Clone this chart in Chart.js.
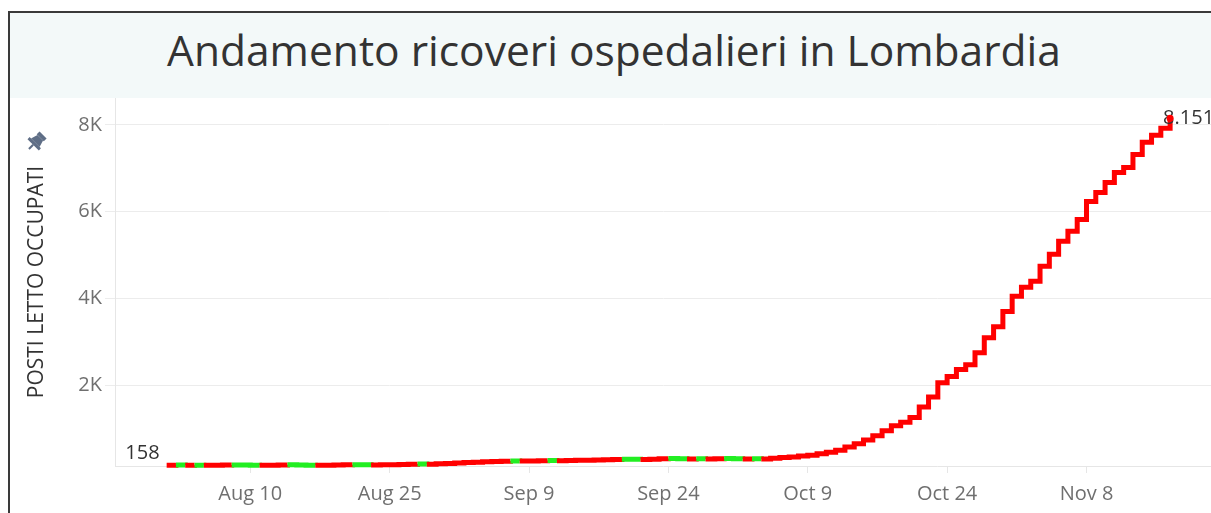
<!DOCTYPE html>
<html>
<head>
<meta charset="utf-8">
<script src="https://cdn.jsdelivr.net/npm/chart.js@4/dist/chart.umd.min.js"></script>
<style>
  html, body { margin: 0; padding: 0; background: #fff; width: 1211px; height: 513px; overflow: hidden; }
  #frame { position: absolute; left: 8px; top: 11px; width: 1220px; height: 520px; border-left: 2px solid #3a3a3a; border-top: 2px solid #3a3a3a; box-sizing: border-box; }
  #band { position: absolute; left: 10px; top: 13px; width: 1210px; height: 85px; background: #f3f9f9; }
  #title { position: absolute; left: 0; top: 10px; width: 1228px; height: 85px; line-height: 80px; text-align: center; font-family: "Open Sans", sans-serif; font-size: 42.5px; color: #333; white-space: nowrap; }
  #c { position: absolute; left: 0; top: 0; }
</style>
</head>
<body>
<div id="frame"></div>
<div id="band"></div>
<div id="title">Andamento ricoveri ospedalieri in Lombardia</div>
<canvas id="c" width="1211" height="513"></canvas>
<script>
// ---- data ----
const startDate = "2020-08-01";
// daily occupied hospital beds, Aug 1 .. Nov 17 2020 (day index = position)
const occupiedBeds = [
  158, 162, 157, 160, 156, 158, 161, 164, 162, 160,
  157, 160, 163, 166, 163, 160, 157, 160, 163, 166,
  169, 166, 164, 167, 170, 174, 178, 184, 180, 190,
  200, 210, 220, 228, 237, 245, 252, 258, 254, 258,
  262, 266, 262, 266, 270, 274, 279, 284, 290, 298,
  294, 290, 298, 305, 312, 308, 303, 307, 303, 307,
  311, 306, 300, 306, 302, 318, 334, 350, 368, 390,
  420, 455, 505, 580, 650, 740, 837, 950, 1067, 1150,
  1260, 1500, 1730, 2060, 2200, 2361, 2476, 2752, 3096, 3349,
  3700, 4053, 4260, 4398, 4743, 5018, 5317, 5547, 5822, 6237,
  6443, 6673, 6903, 7017, 7317, 7602, 7763, 7924, 8151
];
const xTickDays   = [9, 24, 39, 54, 69, 84, 99];
const xTickLabels = ["Aug 10", "Aug 25", "Sep 9", "Sep 24", "Oct 9", "Oct 24", "Nov 8"];
const yTickValues = [2000, 4000, 6000, 8000];
const yTickLabels = ["2K", "4K", "6K", "8K"];
const yAxisTitle  = "POSTI LETTO OCCUPATI";
const firstLabel  = "158";
const lastLabel   = "8.151";

const RED = "#ff0000", GREEN = "#22ee22";
const points = occupiedBeds.map((v, i) => ({ x: i, y: v }));

const axisTitlePlugin = {
  id: "axisTitle",
  afterDraw(chart) {
    const ctx = chart.ctx;
    ctx.save();
    ctx.translate(37, 282);
    ctx.rotate(-Math.PI / 2);
    ctx.font = '21px "Open Sans", sans-serif';
    ctx.fillStyle = "#333";
    ctx.textAlign = "center";
    ctx.textBaseline = "middle";
    ctx.fillText(yAxisTitle, 0, 0);
    ctx.restore();
    // pin icon
    ctx.save();
    ctx.translate(36, 142);
    ctx.rotate(Math.PI / 4);
    ctx.fillStyle = "#5f6e86";
    ctx.strokeStyle = "#5f6e86";
    ctx.fillRect(-5, -10, 10, 4);
    ctx.beginPath();
    ctx.moveTo(-4, -6); ctx.lineTo(4, -6); ctx.lineTo(6, 1); ctx.lineTo(-6, 1); ctx.closePath();
    ctx.fill();
    ctx.fillRect(-8, 1, 16, 3);
    ctx.lineWidth = 2;
    ctx.beginPath(); ctx.moveTo(0, 4); ctx.lineTo(0, 10); ctx.stroke();
    ctx.restore();
  }
};

const endLabels = {
  id: "endLabels",
  afterDatasetsDraw(chart) {
    const meta = chart.getDatasetMeta(0);
    const p0 = meta.data[0], pN = meta.data[meta.data.length - 1];
    const ctx = chart.ctx;
    ctx.save();
    ctx.font = '20px "Open Sans", sans-serif';
    ctx.fillStyle = "#333";
    ctx.textBaseline = "alphabetic";
    ctx.textAlign = "right";
    ctx.fillText(firstLabel, p0.x - 7, p0.y - 6);
    ctx.textAlign = "left";
    ctx.fillText(lastLabel, pN.x - 7, pN.y + 6);
    ctx.fillStyle = RED;
    ctx.beginPath(); ctx.arc(pN.x, pN.y, 3.5, 0, Math.PI * 2); ctx.fill();
    ctx.restore();
  }
};

new Chart(document.getElementById("c"), {
  type: "line",
  data: {
    datasets: [{
      data: points,
      borderColor: RED,
      borderWidth: 5,
      stepped: true,
      pointRadius: 0,
      clip: false,
      segment: {
        borderColor: c => (c.p1.parsed.y < c.p0.parsed.y ? GREEN : RED)
      }
    }]
  },
  options: {
    responsive: false,
    animation: false,
    events: [],
    layout: { padding: { top: 98, right: 0, left: 0, bottom: 0 } },
    plugins: { legend: { display: false }, tooltip: { enabled: false }, title: { display: false } },
    scales: {
      x: {
        type: "linear",
        min: -5.56,
        max: 112.4,
        afterBuildTicks: s => { s.ticks = xTickDays.map(v => ({ value: v })); },
        afterFit: s => { s.height = 47; },
        ticks: {
          callback: (v) => xTickLabels[xTickDays.indexOf(v)],
          font: { family: "Open Sans", size: 20 },
          color: "#6f6f6f",
          padding: 9,
          maxRotation: 0,
          autoSkip: false
        },
        grid: { drawOnChartArea: false, drawTicks: true, tickLength: 7, color: "#e6e6e6" },
        border: { color: "#e6e6e6" }
      },
      y: {
        type: "linear",
        min: 140,
        max: 8620,
        afterBuildTicks: s => { s.ticks = yTickValues.map(v => ({ value: v })); },
        afterFit: s => { s.width = 115; },
        ticks: {
          callback: (v) => yTickLabels[yTickValues.indexOf(v)],
          font: { family: "Open Sans", size: 20 },
          color: "#6f6f6f",
          padding: 3
        },
        grid: { color: "#ececec", tickLength: 10, drawTicks: true },
        border: { color: "#e6e6e6" }
      }
    }
  },
  plugins: [axisTitlePlugin, endLabels]
});
</script>
</body>
</html>
